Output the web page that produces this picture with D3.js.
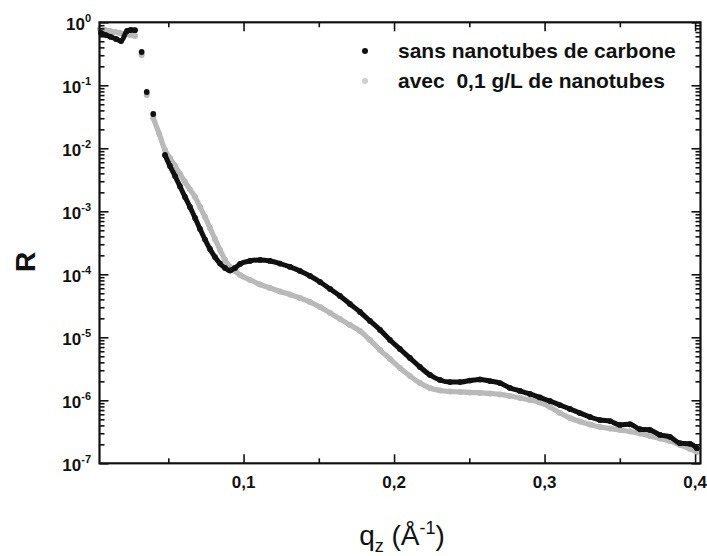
<!DOCTYPE html>
<html><head><meta charset="utf-8">
<script src="https://cdn.jsdelivr.net/npm/d3@7"></script>
<style>body{margin:0;background:#fff}svg{display:block}</style>
</head><body><svg id="c" width="707" height="556"></svg>
<script>
// ---- data ----
const qSans = [0.0053,0.0086,0.0119,0.0153,0.0186,0.0226,0.0252,0.0279,0.0323,0.0357,0.0400,
  0.0478,0.0511,0.0545,0.0578,0.0611,0.0644,0.0678,0.0711,0.0744,0.0777,0.0810,0.0844,0.0877,0.0910,0.0943,
  0.0977,0.1043,0.1110,0.1176,0.1242,0.1309,0.1375,0.1442,0.1508,0.1575,0.1641,0.1707,0.1774,0.1840,0.1907,0.1973,
  0.2039,0.2106,0.2172,0.2239,0.2305,0.2372,0.2438,0.2504,0.2571,0.2637,0.2704,0.2770,0.2837,0.2903,0.2969,
  0.3036,0.3102,0.3169,0.3235,0.3302,0.3368,0.3435,0.3501,0.3567,0.3634,0.3700,0.3767,0.3833,0.3900,0.3966,0.4012];
const rSans = [0.676,0.628,0.585,0.543,0.505,0.728,0.755,0.75,0.338,0.0783,0.0350,
  7.83e-3,5.24e-3,3.63e-3,2.48e-3,1.69e-3,1.17e-3,7.83e-4,5.24e-4,3.56e-4,2.52e-4,1.88e-4,1.48e-4,1.26e-4,1.15e-4,1.26e-4,
  1.46e-4,1.63e-4,1.69e-4,1.63e-4,1.48e-4,1.31e-4,1.13e-4,9.40e-5,7.55e-5,5.85e-5,4.53e-5,3.38e-5,2.52e-5,1.82e-5,1.31e-5,9.06e-6,
  6.52e-6,4.69e-6,3.38e-6,2.52e-6,2.10e-6,1.95e-6,1.95e-6,2.06e-6,2.14e-6,2.02e-6,1.88e-6,1.57e-6,1.41e-6,1.26e-6,1.11e-6,
  9.75e-7,8.41e-7,7.28e-7,6.28e-7,5.43e-7,4.86e-7,4.68e-7,4.07e-7,4.17e-7,3.47e-7,3.39e-7,2.82e-7,2.63e-7,2.09e-7,2.04e-7,1.74e-7];

const qAvec = [0.0046,0.0080,0.0113,0.0146,0.0179,0.0212,0.0246,0.0279,0.0323,0.0357,0.0400,0.0440,0.0478,
  0.0511,0.0545,0.0578,0.0611,0.0644,0.0678,0.0711,0.0744,0.0777,0.0810,0.0844,0.0877,0.0910,0.0943,
  0.0977,0.1043,0.1110,0.1176,0.1242,0.1309,0.1375,0.1442,0.1508,0.1575,0.1641,0.1707,0.1774,0.1840,0.1907,0.1973,
  0.2039,0.2106,0.2172,0.2239,0.2305,0.2372,0.2438,0.2504,0.2571,0.2637,0.2704,0.2770,0.2837,0.2903,0.2969,
  0.3036,0.3102,0.3169,0.3235,0.3302,0.3368,0.3435,0.3501,0.3567,0.3634,0.3700,0.3767,0.3833,0.3900,0.3966,0.4012];
const rAvec = [0.783,0.755,0.728,0.701,0.676,0.652,0.628,0.607,0.303,0.0701,0.0303,0.0169,9.40e-3,
  7.01e-3,5.24e-3,3.91e-3,2.92e-3,2.22e-3,1.69e-3,1.17e-3,8.13e-4,5.43e-4,3.63e-4,2.43e-4,1.69e-4,1.31e-4,1.13e-4,
  9.75e-5,8.13e-5,6.89e-5,6.07e-5,5.33e-5,4.78e-5,4.21e-5,3.63e-5,3.03e-5,2.43e-5,1.95e-5,1.57e-5,1.26e-5,9.06e-6,6.28e-6,4.53e-6,
  3.26e-6,2.43e-6,1.88e-6,1.57e-6,1.43e-6,1.38e-6,1.36e-6,1.33e-6,1.31e-6,1.28e-6,1.24e-6,1.17e-6,1.09e-6,1.01e-6,9.23e-7,
  7.83e-7,6.28e-7,5.24e-7,4.60e-7,4.13e-7,3.77e-7,3.56e-7,3.38e-7,3.20e-7,2.97e-7,2.71e-7,2.48e-7,2.26e-7,1.95e-7,1.69e-7,1.51e-7];

const seriesNames = ["sans nanotubes de carbone", "avec  0,1 g/L de nanotubes"];
const xMajorTicks = [0.1, 0.2, 0.3, 0.4];
const xMajorLabels = ["0,1", "0,2", "0,3", "0,4"];
const xMinorTicks = [0.05, 0.15, 0.25, 0.35];
const yExponents = [0, -1, -2, -3, -4, -5, -6, -7];
const xTitle = {base: "q", sub: "z", mid: " (Å", sup: "-1", end: ")"};
const yTitle = "R";

// ---- layout ----
const L = 99.5, R = 700.5, T = 22.3, B = 463.3;
const svg = d3.select("#c");
const x = d3.scaleLinear().domain([0.0043, 0.4036]).range([L, R]);
const y = d3.scaleLog().domain([1e-7, 1]).range([B, T]);
const font = "'Liberation Sans', Arial, sans-serif";

// ---- series ----
function drawSeries(qs, rs, color, lw, rad) {
  const pts = d3.zip(qs, rs);
  // split into runs: isolated markers (big screen gaps) stay separate
  const runs = []; let cur = [];
  pts.forEach((p, i) => {
    if (i > 0) {
      const a = pts[i-1];
      const d = Math.hypot(x(p[0]) - x(a[0]), y(p[1]) - y(a[1]));
      if (d > 20) { runs.push(cur); cur = []; }
    }
    cur.push(p);
  });
  runs.push(cur);
  const line = d3.line().x(d => x(d[0])).y(d => y(d[1])).curve(d3.curveMonotoneX);
  const g = svg.append("g");
  runs.filter(r => r.length > 1).forEach(r => {
    g.append("path").attr("d", line(r)).attr("fill", "none")
      .attr("stroke", color).attr("stroke-width", lw).attr("stroke-linecap", "round").attr("stroke-linejoin", "round");
  });
  g.selectAll("circle").data(pts).join("circle")
    .attr("cx", d => x(d[0])).attr("cy", d => y(d[1])).attr("r", rad).attr("fill", color);
}
drawSeries(qAvec, rAvec, "#b9b9b9", 5.2, 3);
drawSeries(qSans, rSans, "#111", 5, 2.9);

// ---- axes (inward ticks on all four sides) ----
const yMinor = [];
for (let e = -7; e < 0; e++) for (let m = 2; m <= 9; m++) yMinor.push(m * Math.pow(10, e));
const yMajor = yExponents.map(e => Math.pow(10, e));

function axisStyle(g) {
  g.select(".domain").remove();
  g.selectAll("line").attr("stroke", "#111").attr("stroke-width", 1.6);
}
svg.append("g").attr("transform", `translate(0,${B})`)
  .call(d3.axisBottom(x).tickValues(xMajorTicks).tickSize(-9).tickFormat("")).call(axisStyle);
svg.append("g").attr("transform", `translate(0,${B})`)
  .call(d3.axisBottom(x).tickValues(xMinorTicks).tickSize(-5).tickFormat("")).call(axisStyle);
svg.append("g").attr("transform", `translate(0,${T})`)
  .call(d3.axisTop(x).tickValues(xMajorTicks).tickSize(-9).tickFormat("")).call(axisStyle);
svg.append("g").attr("transform", `translate(0,${T})`)
  .call(d3.axisTop(x).tickValues(xMinorTicks).tickSize(-5).tickFormat("")).call(axisStyle);
svg.append("g").attr("transform", `translate(${L},0)`)
  .call(d3.axisLeft(y).tickValues(yMajor).tickSize(-9).tickFormat("")).call(axisStyle);
svg.append("g").attr("transform", `translate(${L},0)`)
  .call(d3.axisLeft(y).tickValues(yMinor).tickSize(-5).tickFormat("")).call(axisStyle);
svg.append("g").attr("transform", `translate(${R},0)`)
  .call(d3.axisRight(y).tickValues(yMajor).tickSize(-9).tickFormat("")).call(axisStyle);
svg.append("g").attr("transform", `translate(${R},0)`)
  .call(d3.axisRight(y).tickValues(yMinor).tickSize(-5).tickFormat("")).call(axisStyle);

// frame
svg.append("rect").attr("x", L).attr("y", T).attr("width", R - L).attr("height", B - T)
  .attr("fill", "none").attr("stroke", "#111").attr("stroke-width", 2.2);

// x tick labels
svg.append("g").selectAll("text").data(xMajorTicks).join("text")
  .attr("x", d => x(d)).attr("y", 488).attr("text-anchor", "middle")
  .attr("font-family", font).attr("font-size", 17).attr("font-weight", "bold").attr("fill", "#111")
  .text((d, i) => xMajorLabels[i]);

// y tick labels 10^n
const yl = svg.append("g").selectAll("text").data(yExponents).join("text")
  .attr("x", 91).attr("y", d => y(Math.pow(10, d)) + 7.5).attr("text-anchor", "end")
  .attr("font-family", font).attr("font-size", 17).attr("font-weight", "bold").attr("fill", "#111");
yl.append("tspan").text("10");
yl.append("tspan").attr("dy", -8).attr("font-size", 11).text(d => String(d));

// axis titles
const xt = svg.append("text").attr("x", 402).attr("y", 545).attr("text-anchor", "middle")
  .attr("font-family", font).attr("font-size", 28).attr("fill", "#111");
xt.append("tspan").text(xTitle.base);
xt.append("tspan").attr("dy", 7).attr("font-size", 18).text(xTitle.sub);
xt.append("tspan").attr("dy", -7).text(xTitle.mid);
xt.append("tspan").attr("dy", -11).attr("font-size", 18).text(xTitle.sup);
xt.append("tspan").attr("dy", 11).text(xTitle.end);

svg.append("text").attr("transform", "translate(35,262) rotate(-90)").attr("text-anchor", "middle")
  .attr("font-family", font).attr("font-size", 28).attr("font-weight", "bold").attr("fill", "#111")
  .text(yTitle);

// legend
const legendColors = ["#111", "#cfcfcf"];
const lg = svg.append("g");
seriesNames.forEach((name, i) => {
  lg.append("circle").attr("cx", 365).attr("cy", 51 + i * 30).attr("r", 3).attr("fill", legendColors[i]);
  lg.append("text").attr("x", 398).attr("y", 57.5 + i * 30).attr("xml:space", "preserve")
    .style("white-space", "pre")
    .attr("font-family", font).attr("font-size", 21).attr("font-weight", "bold").attr("fill", "#111")
    .text(name);
});
</script>
</body></html>
